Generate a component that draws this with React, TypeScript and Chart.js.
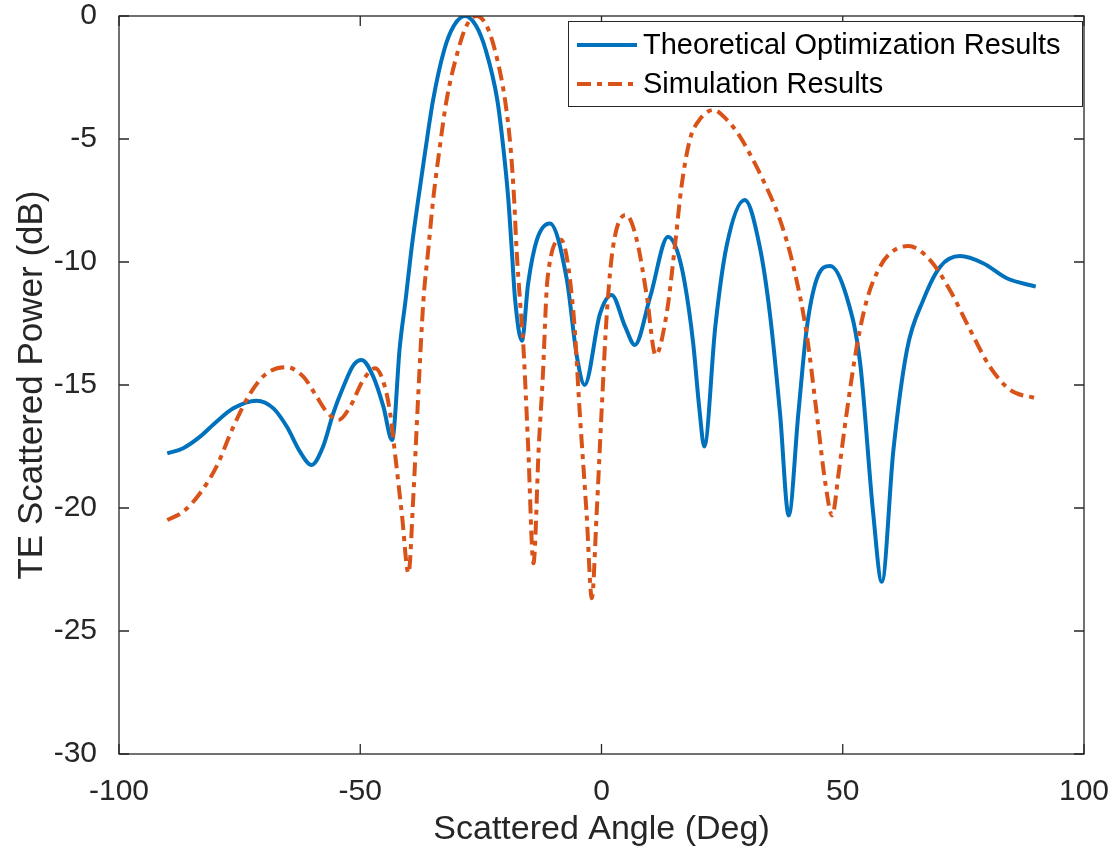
import React, { useEffect, useRef } from "react";
import { Chart, registerables } from "chart.js";

Chart.register(...registerables);

// ---- Data ----
const seriesLabels = ["Theoretical Optimization Results", "Simulation Results"];

const theoAngle = [
  -90, -86.7, -83.2, -79.8, -76.3, -71.5, -68.0, -65.2, -62.5, -60.1, -57.7, -55.6, -53.5, -51.4, -49.7,
  -47.3, -45.2, -43.4, -41.8, -40.6, -39.4, -38.0, -36.5, -34.9, -32.6, -30.6, -28.3, -26.0, -24.0,
  -21.6, -20.3, -19.3, -18.6, -17.9, -16.5, -15.2, -13.4, -10.7, -7.2, -5.1, -3.5, -0.3, 2.1, 4.9, 6.9,
  10.1, 13.8, 15.6, 17.2, 19.0, 20.3, 21.3, 23.6, 25.9, 29.7, 32.8, 34.9, 37.0, 38.8, 40.8, 42.5, 44.6, 47.4,
  50.8, 53.6, 56.3, 58.1, 60.5, 63.3, 66.7, 70.2, 74.3, 79.1, 84.0, 90.0,
];
const theoPower = [
  -17.78, -17.57, -17.1, -16.49, -15.95, -15.64, -15.95, -16.7, -17.71, -18.25, -17.5, -16.15, -15.07, -14.19, -13.98,
  -14.66, -15.88, -17.24, -13.44, -11.54, -9.5, -7.48, -5.45, -3.41, -1.38, -0.4, 0, -0.4, -1.38,
  -3.41, -5.45, -7.48, -9.5, -11.54, -13.2, -10.87, -9.1, -8.43, -10.7, -13.85, -15.0, -12.1, -11.34, -12.63, -13.37,
  -11.41, -8.97, -9.5, -10.8, -13.3, -16.0, -17.5, -12.6, -9.38, -7.48, -9.38, -12.1, -16.15, -20.3, -16.15, -12.76, -10.7, -10.16,
  -11.41, -14.1, -20.2, -23.0, -17.64, -13.58, -11.54, -10.19, -9.76, -10.05, -10.66, -11.0,
];

const simAngle = [
  -90, -86.7, -83.2, -79.8, -76.3, -72.8, -69.4, -65.2, -61.8, -59.0, -57.0, -54.5, -52.1, -49.4, -46.9,
  -44.9, -43.8, -42.8, -41.4, -40.0, -39.0, -38.0, -36.9, -35.9, -34.9, -33.6, -32.1, -29.7, -28.0, -25.9,
  -23.8, -22.1, -20.0, -18.8, -18.1, -17.6, -16.9, -16.2, -15.2, -14.1, -13.0, -12.2, -11.2, -8.4, -5.8,
  -4.5, -3.1, -2.0, -1.0, 0.0, 1.1, 2.4, 5.1, 7.3, 9.4, 11.2, 13.5, 15.2, 16.6, 18.3, 20.0, 23.2, 25.9,
  28.7, 31.0, 33.5, 37.0, 39.8, 42.5, 44.6, 46.4, 47.8, 49.2, 50.8, 52.9, 55.0, 57.7, 59.8, 63.6, 68.1,
  72.2, 76.4, 80.5, 84.7, 90.0,
];
const simPower = [
  -20.49, -20.15, -19.4, -18.32, -16.7, -15.34, -14.53, -14.28, -14.66, -15.48, -16.08, -16.42, -15.88, -14.8, -14.32,
  -15.07, -16.15, -17.78, -20.2, -22.65, -19.54, -15.48, -11.54, -9.5, -7.48, -5.45, -3.41, -1.38, -0.4, 0,
  -0.4, -1.38, -3.41, -5.45, -7.48, -9.5, -11.54, -13.4, -17.5, -22.25, -17.5, -14.8, -10.7, -9.1, -12.1,
  -16.15, -20.2, -23.67, -20.2, -16.15, -12.1, -9.38, -8.09, -9.1, -11.4, -13.78, -12.1, -9.38, -6.9, -5.04, -4.3, -3.82, -4.2,
  -4.9, -5.7, -6.67, -8.29, -10.2, -12.9, -16.15, -19.0, -20.3, -18.5, -16.15, -13.44, -11.54, -10.2, -9.65, -9.35, -9.92,
  -11.14, -12.76, -14.26, -15.2, -15.54,
];

const xTickValues = [-100, -50, 0, 50, 100];
const yTickValues = [-30, -25, -20, -15, -10, -5, 0];

const xTitle = "Scattered Angle (Deg)";
const yTitle = "TE Scattered Power (dB)";

const BLUE = "#0072BD";
const ORANGE = "#D95319";
const AXIS = "#262626";
const FONT = "'Liberation Sans', Arial, Helvetica, sans-serif";
const DASH = [14, 6, 5, 6];

const toPoints = (xs: number[], ys: number[]) => xs.map((x, i) => ({ x, y: ys[i] }));

const zeroPadding = (scale: any) => {
  scale.paddingTop = 0;
  scale.paddingBottom = 0;
  scale.paddingLeft = 0;
  scale.paddingRight = 0;
};

const boxPlugin = {
  id: "matlabBox",
  afterDraw(chart: any) {
    const { ctx, chartArea } = chart;
    const { left, right, top, bottom } = chartArea;
    const xs = chart.scales.x;
    const ys = chart.scales.y;
    ctx.save();
    ctx.strokeStyle = AXIS;
    ctx.lineWidth = 1.3;
    ctx.strokeRect(left, top, right - left, bottom - top);
    const tl = 10;
    ctx.beginPath();
    xTickValues.forEach((v) => {
      const px = xs.getPixelForValue(v);
      ctx.moveTo(px, bottom);
      ctx.lineTo(px, bottom - tl);
      ctx.moveTo(px, top);
      ctx.lineTo(px, top + tl);
    });
    yTickValues.forEach((v) => {
      const py = ys.getPixelForValue(v);
      ctx.moveTo(left, py);
      ctx.lineTo(left + tl, py);
      ctx.moveTo(right, py);
      ctx.lineTo(right - tl, py);
    });
    ctx.stroke();

    // Legend box (MATLAB style, inside the axes, top right)
    const bx = 568;
    const by = 21;
    const bw = right - 2 - bx;
    const bh = 85;
    ctx.fillStyle = "#ffffff";
    ctx.fillRect(bx, by, bw, bh);
    ctx.strokeStyle = AXIS;
    ctx.lineWidth = 1;
    ctx.strokeRect(bx + 0.5, by + 0.5, bw, bh);
    const rows = [
      { y: 45, color: BLUE, dash: [] as number[], label: chart.data.datasets[0].label },
      { y: 84, color: ORANGE, dash: DASH, label: chart.data.datasets[1].label },
    ];
    rows.forEach((r) => {
      ctx.beginPath();
      ctx.strokeStyle = r.color;
      ctx.lineWidth = 4;
      ctx.setLineDash(r.dash);
      ctx.moveTo(577, r.y);
      ctx.lineTo(637, r.y);
      ctx.stroke();
      ctx.setLineDash([]);
      ctx.fillStyle = "#000000";
      ctx.font = `29px ${FONT}`;
      ctx.textAlign = "left";
      ctx.textBaseline = "middle";
      ctx.fillText(r.label, 643, r.y + 1);
    });
    ctx.restore();
  },
};

export default function App() {
  const canvasRef = useRef<HTMLCanvasElement | null>(null);

  useEffect(() => {
    document.body.style.margin = "0";
    const canvas = canvasRef.current;
    if (!canvas) return;
    const chart = new Chart(canvas, {
      type: "line",
      data: {
        datasets: [
          {
            label: seriesLabels[0],
            data: toPoints(theoAngle, theoPower),
            borderColor: BLUE,
            borderWidth: 4,
            pointRadius: 0,
            cubicInterpolationMode: "monotone",
            fill: false,
            order: 1,
          },
          {
            label: seriesLabels[1],
            data: toPoints(simAngle, simPower),
            borderColor: ORANGE,
            borderWidth: 4,
            borderDash: DASH,
            pointRadius: 0,
            cubicInterpolationMode: "monotone",
            fill: false,
            order: 0,
          },
        ],
      },
      options: {
        responsive: false,
        animation: false,
        devicePixelRatio: 1,
        layout: { padding: { left: 0, right: 33, top: 16, bottom: 0 } },
        plugins: {
          legend: { display: false },
          tooltip: { enabled: false },
        },
        scales: {
          x: {
            type: "linear",
            min: -100,
            max: 100,
            afterBuildTicks: (scale: any) => {
              scale.ticks = xTickValues.map((v) => ({ value: v }));
            },
            afterFit: (scale: any) => {
              scale.height = 106;
              zeroPadding(scale);
            },
            grid: { display: false },
            border: { display: false },
            ticks: {
              color: AXIS,
              font: { family: FONT, size: 30 },
              padding: 12,
              maxRotation: 0,
            },
            title: {
              display: true,
              text: xTitle,
              color: AXIS,
              font: { family: FONT, size: 34 },
              padding: { top: 0, bottom: 10 },
            },
          },
          y: {
            type: "linear",
            min: -30,
            max: 0,
            afterBuildTicks: (scale: any) => {
              scale.ticks = yTickValues.map((v) => ({ value: v }));
            },
            afterFit: (scale: any) => {
              scale.width = 119;
              zeroPadding(scale);
            },
            grid: { display: false },
            border: { display: false },
            ticks: {
              color: AXIS,
              font: { family: FONT, size: 30 },
              padding: 14,
            },
            title: {
              display: true,
              text: yTitle,
              color: AXIS,
              font: { family: FONT, size: 35 },
              padding: { top: 11, bottom: 0 },
            },
          },
        },
      },
      plugins: [boxPlugin],
    });
    return () => chart.destroy();
  }, []);

  return (
    <div style={{ position: "absolute", left: 0, top: 0, width: 1117, height: 860, background: "#fff" }}>
      <canvas ref={canvasRef} width={1117} height={860} style={{ display: "block" }} />
    </div>
  );
}
